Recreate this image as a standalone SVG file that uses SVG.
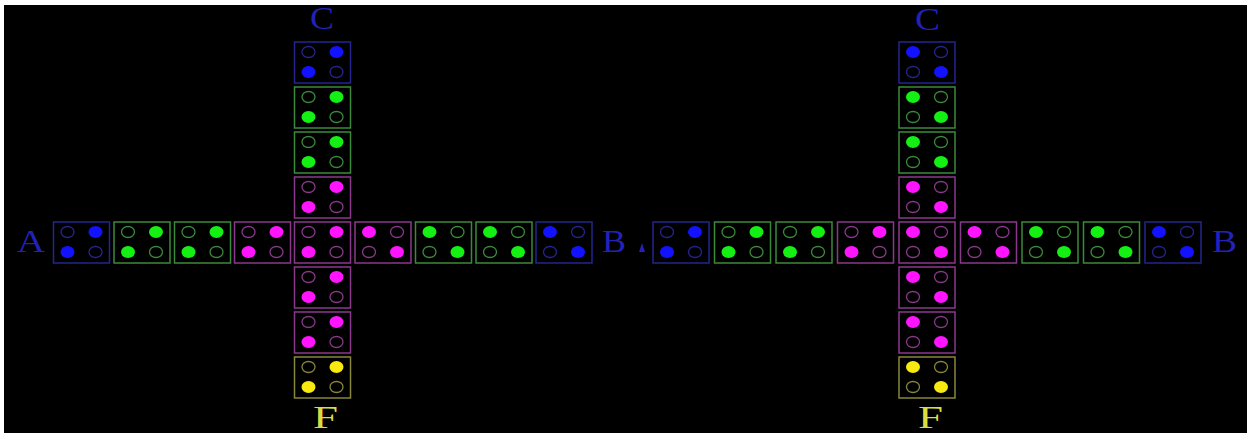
<svg xmlns="http://www.w3.org/2000/svg" width="1247" height="433" viewBox="0 0 1247 433">
<style>
.fr{fill:none;stroke-width:1.5}
.e{fill:none;stroke-width:1.3}
.blue .fr,.blue .e{stroke:#25258f}
.blue .f{fill:#1212ff}
.green .fr,.green .e{stroke:#3b8a3b}
.green .f{fill:#14f014}
.pink .fr,.pink .e{stroke:#8a388a}
.pink .f{fill:#ff14ff}
.yellow .fr,.yellow .e{stroke:#87873a}
.yellow .f{fill:#f8ea10}
.lbl{font-family:"Liberation Serif","Times New Roman",serif;font-size:31px}
.lb{fill:#2222b8}
.ly{fill:#dcdc40}
</style>
<rect x="0" y="0" width="1247" height="433" fill="#ffffff"/>
<rect x="4" y="5" width="1243" height="428" fill="#000000"/>
<g id="connectors"/>
<!-- LEFT CROSS -->
<g id="L-v1" class="blue" transform="translate(294.5,42)"><rect class="fr" width="56" height="41"/><ellipse class="e" cx="14" cy="10" rx="6.5" ry="5.5"/><ellipse class="f" cx="42" cy="10" rx="7" ry="6"/><ellipse class="f" cx="14" cy="30" rx="7" ry="6"/><ellipse class="e" cx="42" cy="30" rx="6.5" ry="5.5"/></g>
<g id="L-v2" class="green" transform="translate(294.5,87)"><rect class="fr" width="56" height="41"/><ellipse class="e" cx="14" cy="10" rx="6.5" ry="5.5"/><ellipse class="f" cx="42" cy="10" rx="7" ry="6"/><ellipse class="f" cx="14" cy="30" rx="7" ry="6"/><ellipse class="e" cx="42" cy="30" rx="6.5" ry="5.5"/></g>
<g id="L-v3" class="green" transform="translate(294.5,132)"><rect class="fr" width="56" height="41"/><ellipse class="e" cx="14" cy="10" rx="6.5" ry="5.5"/><ellipse class="f" cx="42" cy="10" rx="7" ry="6"/><ellipse class="f" cx="14" cy="30" rx="7" ry="6"/><ellipse class="e" cx="42" cy="30" rx="6.5" ry="5.5"/></g>
<g id="L-v4" class="pink" transform="translate(294.5,177)"><rect class="fr" width="56" height="41"/><ellipse class="e" cx="14" cy="10" rx="6.5" ry="5.5"/><ellipse class="f" cx="42" cy="10" rx="7" ry="6"/><ellipse class="f" cx="14" cy="30" rx="7" ry="6"/><ellipse class="e" cx="42" cy="30" rx="6.5" ry="5.5"/></g>
<g id="L-center" class="pink" transform="translate(294.5,222)"><rect class="fr" width="56" height="41"/><ellipse class="e" cx="14" cy="10" rx="6.5" ry="5.5"/><ellipse class="f" cx="42" cy="10" rx="7" ry="6"/><ellipse class="f" cx="14" cy="30" rx="7" ry="6"/><ellipse class="e" cx="42" cy="30" rx="6.5" ry="5.5"/></g>
<g id="L-v6" class="pink" transform="translate(294.5,267)"><rect class="fr" width="56" height="41"/><ellipse class="e" cx="14" cy="10" rx="6.5" ry="5.5"/><ellipse class="f" cx="42" cy="10" rx="7" ry="6"/><ellipse class="f" cx="14" cy="30" rx="7" ry="6"/><ellipse class="e" cx="42" cy="30" rx="6.5" ry="5.5"/></g>
<g id="L-v7" class="pink" transform="translate(294.5,312)"><rect class="fr" width="56" height="41"/><ellipse class="e" cx="14" cy="10" rx="6.5" ry="5.5"/><ellipse class="f" cx="42" cy="10" rx="7" ry="6"/><ellipse class="f" cx="14" cy="30" rx="7" ry="6"/><ellipse class="e" cx="42" cy="30" rx="6.5" ry="5.5"/></g>
<g id="L-v8" class="yellow" transform="translate(294.5,357)"><rect class="fr" width="56" height="41"/><ellipse class="e" cx="14" cy="10" rx="6.5" ry="5.5"/><ellipse class="f" cx="42" cy="10" rx="7" ry="6"/><ellipse class="f" cx="14" cy="30" rx="7" ry="6"/><ellipse class="e" cx="42" cy="30" rx="6.5" ry="5.5"/></g>
<g id="L-h1" class="blue" transform="translate(53.5,222)"><rect class="fr" width="56" height="41"/><ellipse class="e" cx="14" cy="10" rx="6.5" ry="5.5"/><ellipse class="f" cx="42" cy="10" rx="7" ry="6"/><ellipse class="f" cx="14" cy="30" rx="7" ry="6"/><ellipse class="e" cx="42" cy="30" rx="6.5" ry="5.5"/></g>
<g id="L-h2" class="green" transform="translate(114,222)"><rect class="fr" width="56" height="41"/><ellipse class="e" cx="14" cy="10" rx="6.5" ry="5.5"/><ellipse class="f" cx="42" cy="10" rx="7" ry="6"/><ellipse class="f" cx="14" cy="30" rx="7" ry="6"/><ellipse class="e" cx="42" cy="30" rx="6.5" ry="5.5"/></g>
<g id="L-h3" class="green" transform="translate(174.5,222)"><rect class="fr" width="56" height="41"/><ellipse class="e" cx="14" cy="10" rx="6.5" ry="5.5"/><ellipse class="f" cx="42" cy="10" rx="7" ry="6"/><ellipse class="f" cx="14" cy="30" rx="7" ry="6"/><ellipse class="e" cx="42" cy="30" rx="6.5" ry="5.5"/></g>
<g id="L-h4" class="pink" transform="translate(234.5,222)"><rect class="fr" width="56" height="41"/><ellipse class="e" cx="14" cy="10" rx="6.5" ry="5.5"/><ellipse class="f" cx="42" cy="10" rx="7" ry="6"/><ellipse class="f" cx="14" cy="30" rx="7" ry="6"/><ellipse class="e" cx="42" cy="30" rx="6.5" ry="5.5"/></g>
<g id="L-h6" class="pink" transform="translate(355,222)"><rect class="fr" width="56" height="41"/><ellipse class="f" cx="14" cy="10" rx="7" ry="6"/><ellipse class="e" cx="42" cy="10" rx="6.5" ry="5.5"/><ellipse class="e" cx="14" cy="30" rx="6.5" ry="5.5"/><ellipse class="f" cx="42" cy="30" rx="7" ry="6"/></g>
<g id="L-h7" class="green" transform="translate(415.5,222)"><rect class="fr" width="56" height="41"/><ellipse class="f" cx="14" cy="10" rx="7" ry="6"/><ellipse class="e" cx="42" cy="10" rx="6.5" ry="5.5"/><ellipse class="e" cx="14" cy="30" rx="6.5" ry="5.5"/><ellipse class="f" cx="42" cy="30" rx="7" ry="6"/></g>
<g id="L-h8" class="green" transform="translate(476,222)"><rect class="fr" width="56" height="41"/><ellipse class="f" cx="14" cy="10" rx="7" ry="6"/><ellipse class="e" cx="42" cy="10" rx="6.5" ry="5.5"/><ellipse class="e" cx="14" cy="30" rx="6.5" ry="5.5"/><ellipse class="f" cx="42" cy="30" rx="7" ry="6"/></g>
<g id="L-h9" class="blue" transform="translate(536,222)"><rect class="fr" width="56" height="41"/><ellipse class="f" cx="14" cy="10" rx="7" ry="6"/><ellipse class="e" cx="42" cy="10" rx="6.5" ry="5.5"/><ellipse class="e" cx="14" cy="30" rx="6.5" ry="5.5"/><ellipse class="f" cx="42" cy="30" rx="7" ry="6"/></g>
<g id="L-labels">
<text class="lbl lb" x="17" y="252" textLength="28" lengthAdjust="spacingAndGlyphs">A</text>
<text class="lbl lb" x="602" y="252" textLength="24" lengthAdjust="spacingAndGlyphs">B</text>
<text class="lbl lb" x="310" y="29" textLength="24" lengthAdjust="spacingAndGlyphs">C</text>
<text class="lbl ly" x="313" y="428" textLength="25" lengthAdjust="spacingAndGlyphs">F</text>
</g>
<!-- RIGHT CROSS -->
<polygon points="642,243 645,252 639,252" fill="#2222b8"/>
<g id="R-v1" class="blue" transform="translate(899,42)"><rect class="fr" width="56" height="41"/><ellipse class="f" cx="14" cy="10" rx="7" ry="6"/><ellipse class="e" cx="42" cy="10" rx="6.5" ry="5.5"/><ellipse class="e" cx="14" cy="30" rx="6.5" ry="5.5"/><ellipse class="f" cx="42" cy="30" rx="7" ry="6"/></g>
<g id="R-v2" class="green" transform="translate(899,87)"><rect class="fr" width="56" height="41"/><ellipse class="f" cx="14" cy="10" rx="7" ry="6"/><ellipse class="e" cx="42" cy="10" rx="6.5" ry="5.5"/><ellipse class="e" cx="14" cy="30" rx="6.5" ry="5.5"/><ellipse class="f" cx="42" cy="30" rx="7" ry="6"/></g>
<g id="R-v3" class="green" transform="translate(899,132)"><rect class="fr" width="56" height="41"/><ellipse class="f" cx="14" cy="10" rx="7" ry="6"/><ellipse class="e" cx="42" cy="10" rx="6.5" ry="5.5"/><ellipse class="e" cx="14" cy="30" rx="6.5" ry="5.5"/><ellipse class="f" cx="42" cy="30" rx="7" ry="6"/></g>
<g id="R-v4" class="pink" transform="translate(899,177)"><rect class="fr" width="56" height="41"/><ellipse class="f" cx="14" cy="10" rx="7" ry="6"/><ellipse class="e" cx="42" cy="10" rx="6.5" ry="5.5"/><ellipse class="e" cx="14" cy="30" rx="6.5" ry="5.5"/><ellipse class="f" cx="42" cy="30" rx="7" ry="6"/></g>
<g id="R-center" class="pink" transform="translate(899,222)"><rect class="fr" width="56" height="41"/><ellipse class="f" cx="14" cy="10" rx="7" ry="6"/><ellipse class="e" cx="42" cy="10" rx="6.5" ry="5.5"/><ellipse class="e" cx="14" cy="30" rx="6.5" ry="5.5"/><ellipse class="f" cx="42" cy="30" rx="7" ry="6"/></g>
<g id="R-v6" class="pink" transform="translate(899,267)"><rect class="fr" width="56" height="41"/><ellipse class="f" cx="14" cy="10" rx="7" ry="6"/><ellipse class="e" cx="42" cy="10" rx="6.5" ry="5.5"/><ellipse class="e" cx="14" cy="30" rx="6.5" ry="5.5"/><ellipse class="f" cx="42" cy="30" rx="7" ry="6"/></g>
<g id="R-v7" class="pink" transform="translate(899,312)"><rect class="fr" width="56" height="41"/><ellipse class="f" cx="14" cy="10" rx="7" ry="6"/><ellipse class="e" cx="42" cy="10" rx="6.5" ry="5.5"/><ellipse class="e" cx="14" cy="30" rx="6.5" ry="5.5"/><ellipse class="f" cx="42" cy="30" rx="7" ry="6"/></g>
<g id="R-v8" class="yellow" transform="translate(899,357)"><rect class="fr" width="56" height="41"/><ellipse class="f" cx="14" cy="10" rx="7" ry="6"/><ellipse class="e" cx="42" cy="10" rx="6.5" ry="5.5"/><ellipse class="e" cx="14" cy="30" rx="6.5" ry="5.5"/><ellipse class="f" cx="42" cy="30" rx="7" ry="6"/></g>
<g id="R-h1" class="blue" transform="translate(653,222)"><rect class="fr" width="56" height="41"/><ellipse class="e" cx="14" cy="10" rx="6.5" ry="5.5"/><ellipse class="f" cx="42" cy="10" rx="7" ry="6"/><ellipse class="f" cx="14" cy="30" rx="7" ry="6"/><ellipse class="e" cx="42" cy="30" rx="6.5" ry="5.5"/></g>
<g id="R-h2" class="green" transform="translate(714.5,222)"><rect class="fr" width="56" height="41"/><ellipse class="e" cx="14" cy="10" rx="6.5" ry="5.5"/><ellipse class="f" cx="42" cy="10" rx="7" ry="6"/><ellipse class="f" cx="14" cy="30" rx="7" ry="6"/><ellipse class="e" cx="42" cy="30" rx="6.5" ry="5.5"/></g>
<g id="R-h3" class="green" transform="translate(776,222)"><rect class="fr" width="56" height="41"/><ellipse class="e" cx="14" cy="10" rx="6.5" ry="5.5"/><ellipse class="f" cx="42" cy="10" rx="7" ry="6"/><ellipse class="f" cx="14" cy="30" rx="7" ry="6"/><ellipse class="e" cx="42" cy="30" rx="6.5" ry="5.5"/></g>
<g id="R-h4" class="pink" transform="translate(837.5,222)"><rect class="fr" width="56" height="41"/><ellipse class="e" cx="14" cy="10" rx="6.5" ry="5.5"/><ellipse class="f" cx="42" cy="10" rx="7" ry="6"/><ellipse class="f" cx="14" cy="30" rx="7" ry="6"/><ellipse class="e" cx="42" cy="30" rx="6.5" ry="5.5"/></g>
<g id="R-h6" class="pink" transform="translate(960.5,222)"><rect class="fr" width="56" height="41"/><ellipse class="f" cx="14" cy="10" rx="7" ry="6"/><ellipse class="e" cx="42" cy="10" rx="6.5" ry="5.5"/><ellipse class="e" cx="14" cy="30" rx="6.5" ry="5.5"/><ellipse class="f" cx="42" cy="30" rx="7" ry="6"/></g>
<g id="R-h7" class="green" transform="translate(1022,222)"><rect class="fr" width="56" height="41"/><ellipse class="f" cx="14" cy="10" rx="7" ry="6"/><ellipse class="e" cx="42" cy="10" rx="6.5" ry="5.5"/><ellipse class="e" cx="14" cy="30" rx="6.5" ry="5.5"/><ellipse class="f" cx="42" cy="30" rx="7" ry="6"/></g>
<g id="R-h8" class="green" transform="translate(1083.5,222)"><rect class="fr" width="56" height="41"/><ellipse class="f" cx="14" cy="10" rx="7" ry="6"/><ellipse class="e" cx="42" cy="10" rx="6.5" ry="5.5"/><ellipse class="e" cx="14" cy="30" rx="6.5" ry="5.5"/><ellipse class="f" cx="42" cy="30" rx="7" ry="6"/></g>
<g id="R-h9" class="blue" transform="translate(1145,222)"><rect class="fr" width="56" height="41"/><ellipse class="f" cx="14" cy="10" rx="7" ry="6"/><ellipse class="e" cx="42" cy="10" rx="6.5" ry="5.5"/><ellipse class="e" cx="14" cy="30" rx="6.5" ry="5.5"/><ellipse class="f" cx="42" cy="30" rx="7" ry="6"/></g>
<g id="R-labels">
<text class="lbl lb" x="1212" y="252" textLength="25" lengthAdjust="spacingAndGlyphs">B</text>
<text class="lbl lb" x="915" y="30" textLength="25" lengthAdjust="spacingAndGlyphs">C</text>
<text class="lbl ly" x="918" y="428" textLength="25" lengthAdjust="spacingAndGlyphs">F</text>
</g>
</svg>
